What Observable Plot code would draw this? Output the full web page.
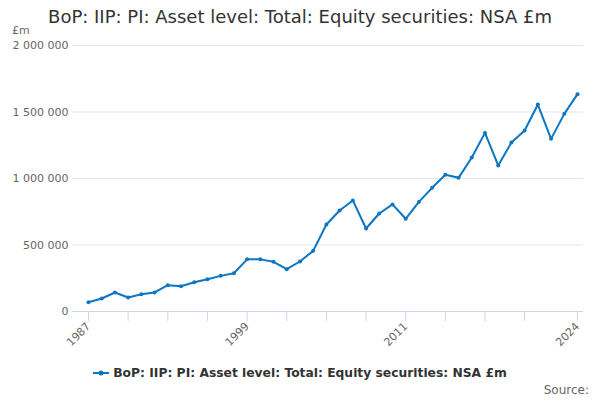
<!DOCTYPE html>
<html>
<head>
<meta charset="utf-8">
<script src="https://cdn.jsdelivr.net/npm/d3@7"></script>
<script src="https://cdn.jsdelivr.net/npm/@observablehq/plot@0.6"></script>
<style>
  html, body { margin: 0; padding: 0; background: #fff; }
  body { width: 600px; height: 400px; position: relative; overflow: hidden; font-family: "DejaVu Sans", sans-serif; }
  #chart { position: absolute; left: 0; top: 0; }
  .title { position: absolute; left: 0; width: 600px; top: 6px; text-align: center; font-size: 18px; color: #333; }
  .unit { position: absolute; left: 12px; top: 24px; font-size: 11px; color: #666; }
  .legend { position: absolute; left: 0; width: 600px; top: 366px; text-align: center; font-size: 12.3px; font-weight: bold; color: #333; }
  .legend svg { vertical-align: -1px; margin-right: 4px; }
  .source { position: absolute; right: 11px; top: 383px; font-size: 12px; color: #666; }
</style>
</head>
<body>
<div class="title">BoP: IIP: PI: Asset level: Total: Equity securities: NSA £m</div>
<div class="unit">£m</div>
<div id="chart"></div>
<div class="legend"><svg width="16" height="10"><line x1="0" x2="16" y1="5" y2="5" stroke="#0b76c2" stroke-width="2"/><circle cx="8" cy="5" r="2.5" fill="#0b76c2"/></svg>BoP: IIP: PI: Asset level: Total: Equity securities: NSA £m</div>
<div class="source">Source:</div>
<script>
const years = [1987,1988,1989,1990,1991,1992,1993,1994,1995,1996,1997,1998,1999,2000,2001,2002,2003,2004,2005,2006,2007,2008,2009,2010,2011,2012,2013,2014,2015,2016,2017,2018,2019,2020,2021,2022,2023,2024];
const values = [70000,98000,143000,105000,130000,143000,198000,190000,220000,243000,268000,288000,392000,392000,374000,318000,376000,456000,654000,759000,835000,624000,737000,805000,697000,824000,930000,1028000,1005000,1158000,1343000,1098000,1271000,1361000,1556000,1298000,1486000,1634000];
const xTicks = [1987,1990,1993,1996,1999,2002,2005,2008,2011,2014,2017,2020,2024];
const xLabels = [1987,1999,2011,2024];
const yTicks = [0,500000,1000000,1500000,2000000];

const data = years.map((y, i) => ({year: y, value: values[i]}));
const fmt = d => d3.format(",")(d).replace(/,/g, " ");
const color = "#0b76c2";

const chart = Plot.plot({
  width: 600,
  height: 400,
  marginTop: 45,
  marginBottom: 89,
  marginLeft: 88,
  marginRight: 23,
  style: {fontFamily: "DejaVu Sans, sans-serif", fontSize: "11px", color: "#666", background: "transparent"},
  x: {domain: [1987, 2024]},
  y: {domain: [0, 2000000]},
  marks: [
    Plot.ruleY(yTicks.filter(d => d > 0), {stroke: "#e6e6e6", strokeWidth: 1, insetLeft: -16, insetRight: -6}),
    Plot.ruleY([0], {stroke: "#ccd6eb", strokeWidth: 1, insetLeft: -16, insetRight: -6}),
    Plot.axisY({ticks: yTicks, tickSize: 0, tickPadding: 20, tickFormat: fmt, label: null, fill: "#666", fontSize: 11}),
    Plot.axisX({ticks: xTicks, tickSize: 10, stroke: "#ccd6eb", tickRotate: -45, tickPadding: 3,
      tickFormat: d => xLabels.includes(d) ? String(d) : "", label: null, fill: "#666", fontSize: 11}),
    Plot.line(data, {x: "year", y: "value", stroke: color, strokeWidth: 2}),
    Plot.dot(data, {x: "year", y: "value", fill: color, r: 2})
  ]
});
document.getElementById("chart").appendChild(chart);
</script>
</body>
</html>
